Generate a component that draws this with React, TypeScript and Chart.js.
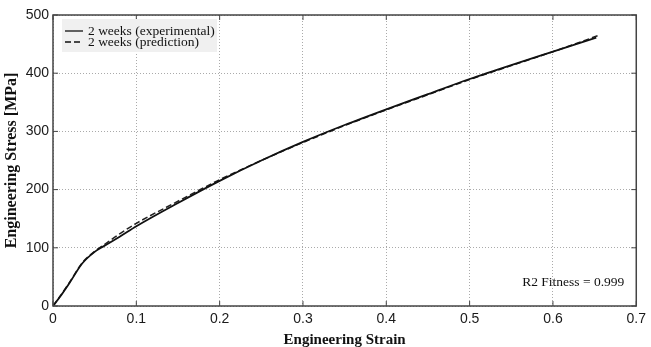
import React, { useEffect, useRef } from "react";
import { Chart, registerables } from "chart.js";
Chart.register(...registerables);

const expStrain = [0, 0.01, 0.02, 0.035, 0.05, 0.06, 0.08, 0.1, 0.15, 0.2, 0.25, 0.3, 0.35, 0.4, 0.45, 0.5, 0.55, 0.6, 0.652];
const expStress = [0, 19, 40, 73, 93, 102, 119, 137, 177, 215, 250, 282, 311, 338, 364, 390, 414, 437, 461];
const predStrain = [0, 0.01, 0.02, 0.035, 0.05, 0.06, 0.08, 0.1, 0.15, 0.2, 0.25, 0.3, 0.35, 0.4, 0.45, 0.5, 0.55, 0.6, 0.655];
const predStress = [0, 20, 41, 74, 94, 104, 124, 142, 180, 217, 250, 281, 310, 337, 363, 389, 413, 437, 465];
const xTicks = [0, 0.1, 0.2, 0.3, 0.4, 0.5, 0.6, 0.7];
const yTicks = [0, 100, 200, 300, 400, 500];
const legendLabels = ["2 weeks (experimental)", "2 weeks (prediction)"];
const fitnessText = "R2 Fitness = 0.999";
const xTitle = "Engineering Strain";
const yTitle = "Engineering Stress [MPa]";

const framePlugin = {
  id: "frame",
  afterDraw(chart: any) {
    const { ctx, chartArea: a, scales } = chart;
    ctx.save();
    ctx.strokeStyle = "#444";
    ctx.lineWidth = 1.5;
    ctx.strokeRect(a.left, a.top, a.right - a.left, a.bottom - a.top);
    ctx.lineWidth = 1;
    ctx.beginPath();
    const tl = 5;
    xTicks.forEach((t) => {
      const x = scales.x.getPixelForValue(t);
      ctx.moveTo(x, a.bottom); ctx.lineTo(x, a.bottom - tl);
      ctx.moveTo(x, a.top); ctx.lineTo(x, a.top + tl);
    });
    yTicks.forEach((t) => {
      const y = scales.y.getPixelForValue(t);
      ctx.moveTo(a.left, y); ctx.lineTo(a.left + tl, y);
      ctx.moveTo(a.right, y); ctx.lineTo(a.right - tl, y);
    });
    ctx.stroke();
    // legend
    const lx = a.left + 9, ly = a.top + 4, lw = 155, lh = 33;
    ctx.fillStyle = "#f0f0f0";
    ctx.fillRect(lx, ly, lw, lh);
    ctx.font = "13.5px 'Liberation Serif'";
    ctx.textBaseline = "middle";
    legendLabels.forEach((lab, i) => {
      const yy = ly + 12 + i * 11;
      ctx.strokeStyle = "#111";
      ctx.lineWidth = 1.3;
      ctx.setLineDash(i === 1 ? [6, 3] : []);
      ctx.beginPath();
      ctx.moveTo(lx + 3, yy); ctx.lineTo(lx + 21, yy);
      ctx.stroke();
      ctx.setLineDash([]);
      ctx.fillStyle = "#111";
      ctx.fillText(lab, lx + 26, yy);
    });
    ctx.font = "13.5px 'Liberation Serif'";
    ctx.textAlign = "right";
    ctx.fillText(fitnessText, a.right - 12, a.bottom - 24);
    ctx.restore();
  },
};

export default function App() {
  const ref = useRef<HTMLCanvasElement>(null);
  useEffect(() => {
    const chart = new Chart(ref.current!, {
      type: "line",
      data: {
        datasets: [
          {
            label: legendLabels[0],
            data: expStrain.map((x, i) => ({ x, y: expStress[i] })),
            borderColor: "#111",
            borderWidth: 1.8,
            pointRadius: 0,
            cubicInterpolationMode: "monotone",
          },
          {
            label: legendLabels[1],
            data: predStrain.map((x, i) => ({ x, y: predStress[i] })),
            borderColor: "#222",
            borderWidth: 1.5,
            borderDash: [6, 3],
            pointRadius: 0,
            cubicInterpolationMode: "monotone",
          },
        ],
      },
      options: {
        animation: false,
        responsive: false,
        maintainAspectRatio: false,
        layout: { padding: { top: 15, right: 9, left: 0, bottom: 0 } },
        plugins: { legend: { display: false }, tooltip: { enabled: false } },
        scales: {
          x: {
            type: "linear",
            min: 0,
            max: 0.7,
            afterBuildTicks: (s: any) => { s.ticks = xTicks.map((v) => ({ value: v })); },
            afterFit: (s: any) => { s.height = 41; },
            grid: { color: "#aaa", drawTicks: false, lineWidth: 1 },
            border: { display: false, dash: [1, 2] },
            ticks: { color: "#1a1a1a", padding: 5, font: { family: "'Liberation Sans'", size: 14 }, maxRotation: 0, callback: (v: any) => String(Math.round(v * 10) / 10) },
            title: { display: true, text: xTitle, color: "#111", font: { family: "'Liberation Serif'", size: 15, weight: "bold" }, padding: { top: 0, bottom: -2 } },
          },
          y: {
            type: "linear",
            min: 0,
            max: 500,
            afterBuildTicks: (s: any) => { s.ticks = yTicks.map((v) => ({ value: v })); },
            afterFit: (s: any) => { s.width = 53; },
            grid: { color: "#aaa", drawTicks: false, lineWidth: 1 },
            border: { display: false, dash: [1, 2] },
            ticks: { color: "#1a1a1a", padding: 4, font: { family: "'Liberation Sans'", size: 14 } },
            title: { display: true, text: yTitle, color: "#111", font: { family: "'Liberation Serif'", size: 16, weight: "bold" }, padding: { top: 2, bottom: 0 } },
          },
        },
      },
      plugins: [framePlugin],
    } as any);
    return () => chart.destroy();
  }, []);
  return (
    <div style={{ position: "fixed", left: 0, top: 0, width: 651, height: 347, background: "#fff" }}>
      <canvas ref={ref} width={651} height={347} />
    </div>
  );
}
